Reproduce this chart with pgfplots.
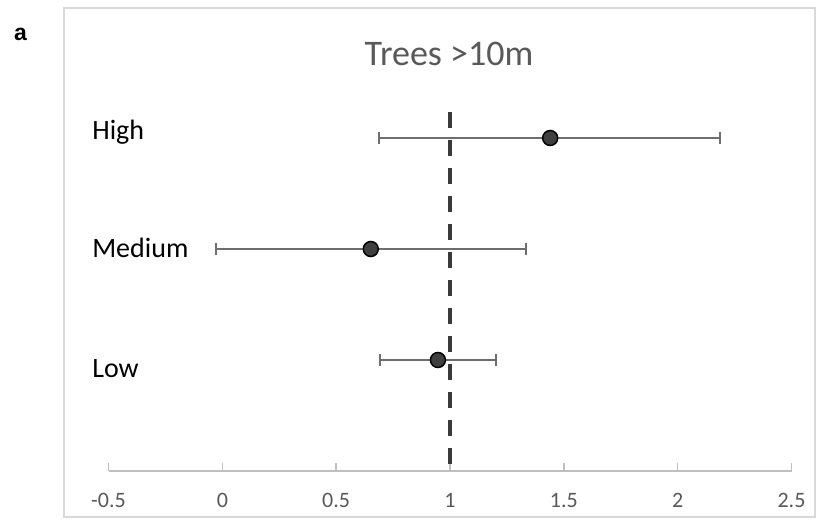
\documentclass[border=0pt]{standalone}
\usepackage{fontspec}
\setmainfont{Carlito}
\newfontfamily\arialbold{Liberation Sans Bold}
\usepackage{pgfplots}
\pgfplotsset{compat=1.18}
\definecolor{txtgray}{HTML}{595959}
\definecolor{axgray}{HTML}{BFBFBF}
\definecolor{framegray}{HTML}{D9D9D9}
\definecolor{errgray}{HTML}{6E6E6E}
\definecolor{dotfill}{HTML}{3F3F3F}
\definecolor{dashcol}{HTML}{3A3A3A}
\begin{document}
\begin{tikzpicture}[x=1pt,y=1pt]
\useasboundingbox (0,0) rectangle (821,521);
\fill[white] (0,0) rectangle (821,521);
\draw[framegray, line width=1.5pt] (64,4) rectangle (815,513);
\node[anchor=base west, inner sep=0, font=\fontsize{23}{26}\arialbold\selectfont] at (14,480) {a};
\node[anchor=base, inner sep=0, text=txtgray, font=\fontsize{36}{40}\selectfont] at (449,455) {Trees >10m};
\begin{axis}[
 at={(108.5pt,50pt)}, anchor=south west,
 scale only axis, width=683pt, height=444pt,
 xmin=-0.5, xmax=2.5, ymin=0, ymax=4,
 axis x line=bottom, axis y line=none,
 x axis line style={-, draw=axgray, line width=1.5pt},
 xtick={-0.5,0,0.5,1,1.5,2,2.5},
 xticklabels={-0.5,0,0.5,1,1.5,2,2.5},
 tick align=inside,
 major tick length=8pt,
 x tick style={draw=axgray, line width=1.5pt},
 xticklabel style={anchor=base, yshift=-37pt, text=txtgray, font=\fontsize{22}{24}\selectfont, inner sep=0pt},
 ytick=\empty,
 clip=false,
]
\addplot[dashcol, line width=4pt, dash pattern=on 16pt off 12pt] coordinates {(1,3.23) (1,0)};
\addplot[only marks, mark=none, error bars/.cd, x dir=both, x explicit,
  error mark=|,
  error bar style={draw=errgray, line width=2pt},
  error mark options={draw=errgray, line width=2pt, mark size=6pt}]
  coordinates {
   (1.44,3) += (0.745,0) -= (0.75,0)
   (0.652,2) += (0.682,0) -= (0.678,0)
   (0.947,1) += (0.255,0) -= (0.254,0)
  };
\addplot[only marks, mark=*, mark size=7.5pt, mark options={fill=dotfill, draw=black, line width=1.5pt}]
  coordinates {(1.44,3) (0.652,2) (0.947,1)};
\node[anchor=base west, inner sep=0, font=\fontsize{28}{32}\selectfont] at (axis cs:-0.572,2.99) {High};
\node[anchor=base west, inner sep=0, font=\fontsize{28}{32}\selectfont] at (axis cs:-0.572,1.92) {Medium};
\node[anchor=base west, inner sep=0, font=\fontsize{28}{32}\selectfont] at (axis cs:-0.572,0.84) {Low};
\end{axis}
\end{tikzpicture}
\end{document}
